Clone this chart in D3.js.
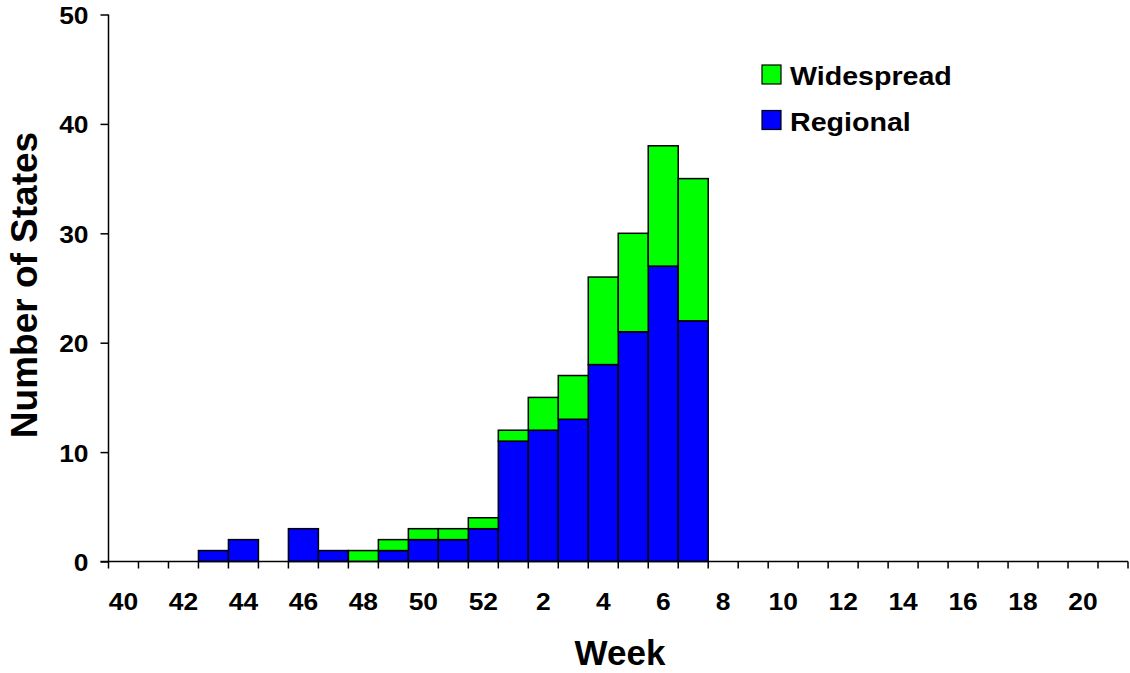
<!DOCTYPE html>
<html><head><meta charset="utf-8">
<script src="https://cdn.jsdelivr.net/npm/d3@7"></script>
<style>body{margin:0;background:#fff}svg{display:block;font-family:"Liberation Sans",Arial,sans-serif;font-weight:bold}</style>
</head><body><svg id="c" width="1130" height="673"></svg>
<script>
const weeks = [40,41,42,43,44,45,46,47,48,49,50,51,52,1,2,3,4,5,6,7,8,9,10,11,12,13,14,15,16,17,18,19,20,21];
const tickLabels = [40,42,44,46,48,50,52,2,4,6,8,10,12,14,16,18,20];
const regional   = [0,0,0,1,2,0,3,1,0,1,2,2,3,11,12,13,18,21,27,22,0,0,0,0,0,0,0,0,0,0,0,0,0,0];
const widespread = [0,0,0,0,0,0,0,0,1,1,1,1,1,1,3,4,8,9,11,13,0,0,0,0,0,0,0,0,0,0,0,0,0,0];
const seriesNames = ["Widespread","Regional"];
const colors = {Regional:"#0000FF", Widespread:"#00FF00"};

const svg = d3.select("#c");
const L=108.5, R=1128, T=14.5, B=561.5;
const x = d3.scaleBand().domain(d3.range(weeks.length)).range([L,R]).padding(0);
const y = d3.scaleLinear().domain([0,50]).range([B,T]);

const rows = weeks.map((w,i)=>({i, Regional:regional[i], Widespread:widespread[i]}));
const stack = d3.stack().keys(["Regional","Widespread"])(rows);
stack.forEach(s=>{
  svg.append("g").selectAll("rect").data(s.filter(d=>d[1]-d[0]>0)).join("rect")
    .attr("x",d=>x(d.data.i)).attr("width",x.bandwidth())
    .attr("y",d=>y(d[1])).attr("height",d=>y(d[0])-y(d[1]))
    .attr("fill",colors[s.key]).attr("stroke","#000").attr("stroke-width",1.5);
});

// y axis
const ya = svg.append("g").attr("transform",`translate(${L},0)`)
  .call(d3.axisLeft(y).tickValues([0,10,20,30,40,50]).tickSize(8).tickPadding(0));
ya.select(".domain").attr("stroke","#000").attr("stroke-width",1.5).attr("d",`M0,${T}V${B}`);
ya.selectAll(".tick line").attr("stroke-width",1.5);
ya.selectAll(".tick text").attr("x",null).attr("dy",null).attr("font-size",null)
  .attr("transform","translate(-20,9) scale(1.1,1)")
  .attr("font-size",24).attr("font-weight","bold").attr("fill","#000").attr("font-family","Liberation Sans, Arial, sans-serif");

// x axis line and ticks at band boundaries
const xa = svg.append("g");
xa.append("line").attr("x1",L-8).attr("x2",R).attr("y1",B).attr("y2",B).attr("stroke","#000").attr("stroke-width",1.5);
const bounds = d3.range(weeks.length+1).map(i=> i<weeks.length ? x(i) : R);
xa.selectAll("line.t").data(bounds).join("line").attr("class","t")
  .attr("x1",d=>d).attr("x2",d=>d).attr("y1",B).attr("y2",B+7).attr("stroke","#000").attr("stroke-width",1.5);
xa.selectAll("text").data(tickLabels).join("text")
  .attr("transform",d=>`translate(${x(weeks.indexOf(d))+x.bandwidth()/2},610) scale(1.1,1)`)
  .attr("text-anchor","middle").attr("font-size",24).text(d=>d);

// axis titles
svg.append("text").attr("x",620).attr("y",665).attr("text-anchor","middle").attr("font-size",35).text("Week");
svg.append("text").attr("transform","translate(37,285) rotate(-90)").attr("text-anchor","middle").attr("font-size",37).text("Number of States");

// legend
const lg = svg.append("g");
seriesNames.forEach((n,k)=>{
  const yy = 65 + k*45.5;
  lg.append("rect").attr("x",762).attr("y",yy).attr("width",19).attr("height",19)
    .attr("fill",colors[n]).attr("stroke","#000").attr("stroke-width",1.2);
  lg.append("text").attr("transform",`translate(790,${yy+20}) scale(1.1,1)`).attr("font-size",26).text(n);
});
</script></body></html>
